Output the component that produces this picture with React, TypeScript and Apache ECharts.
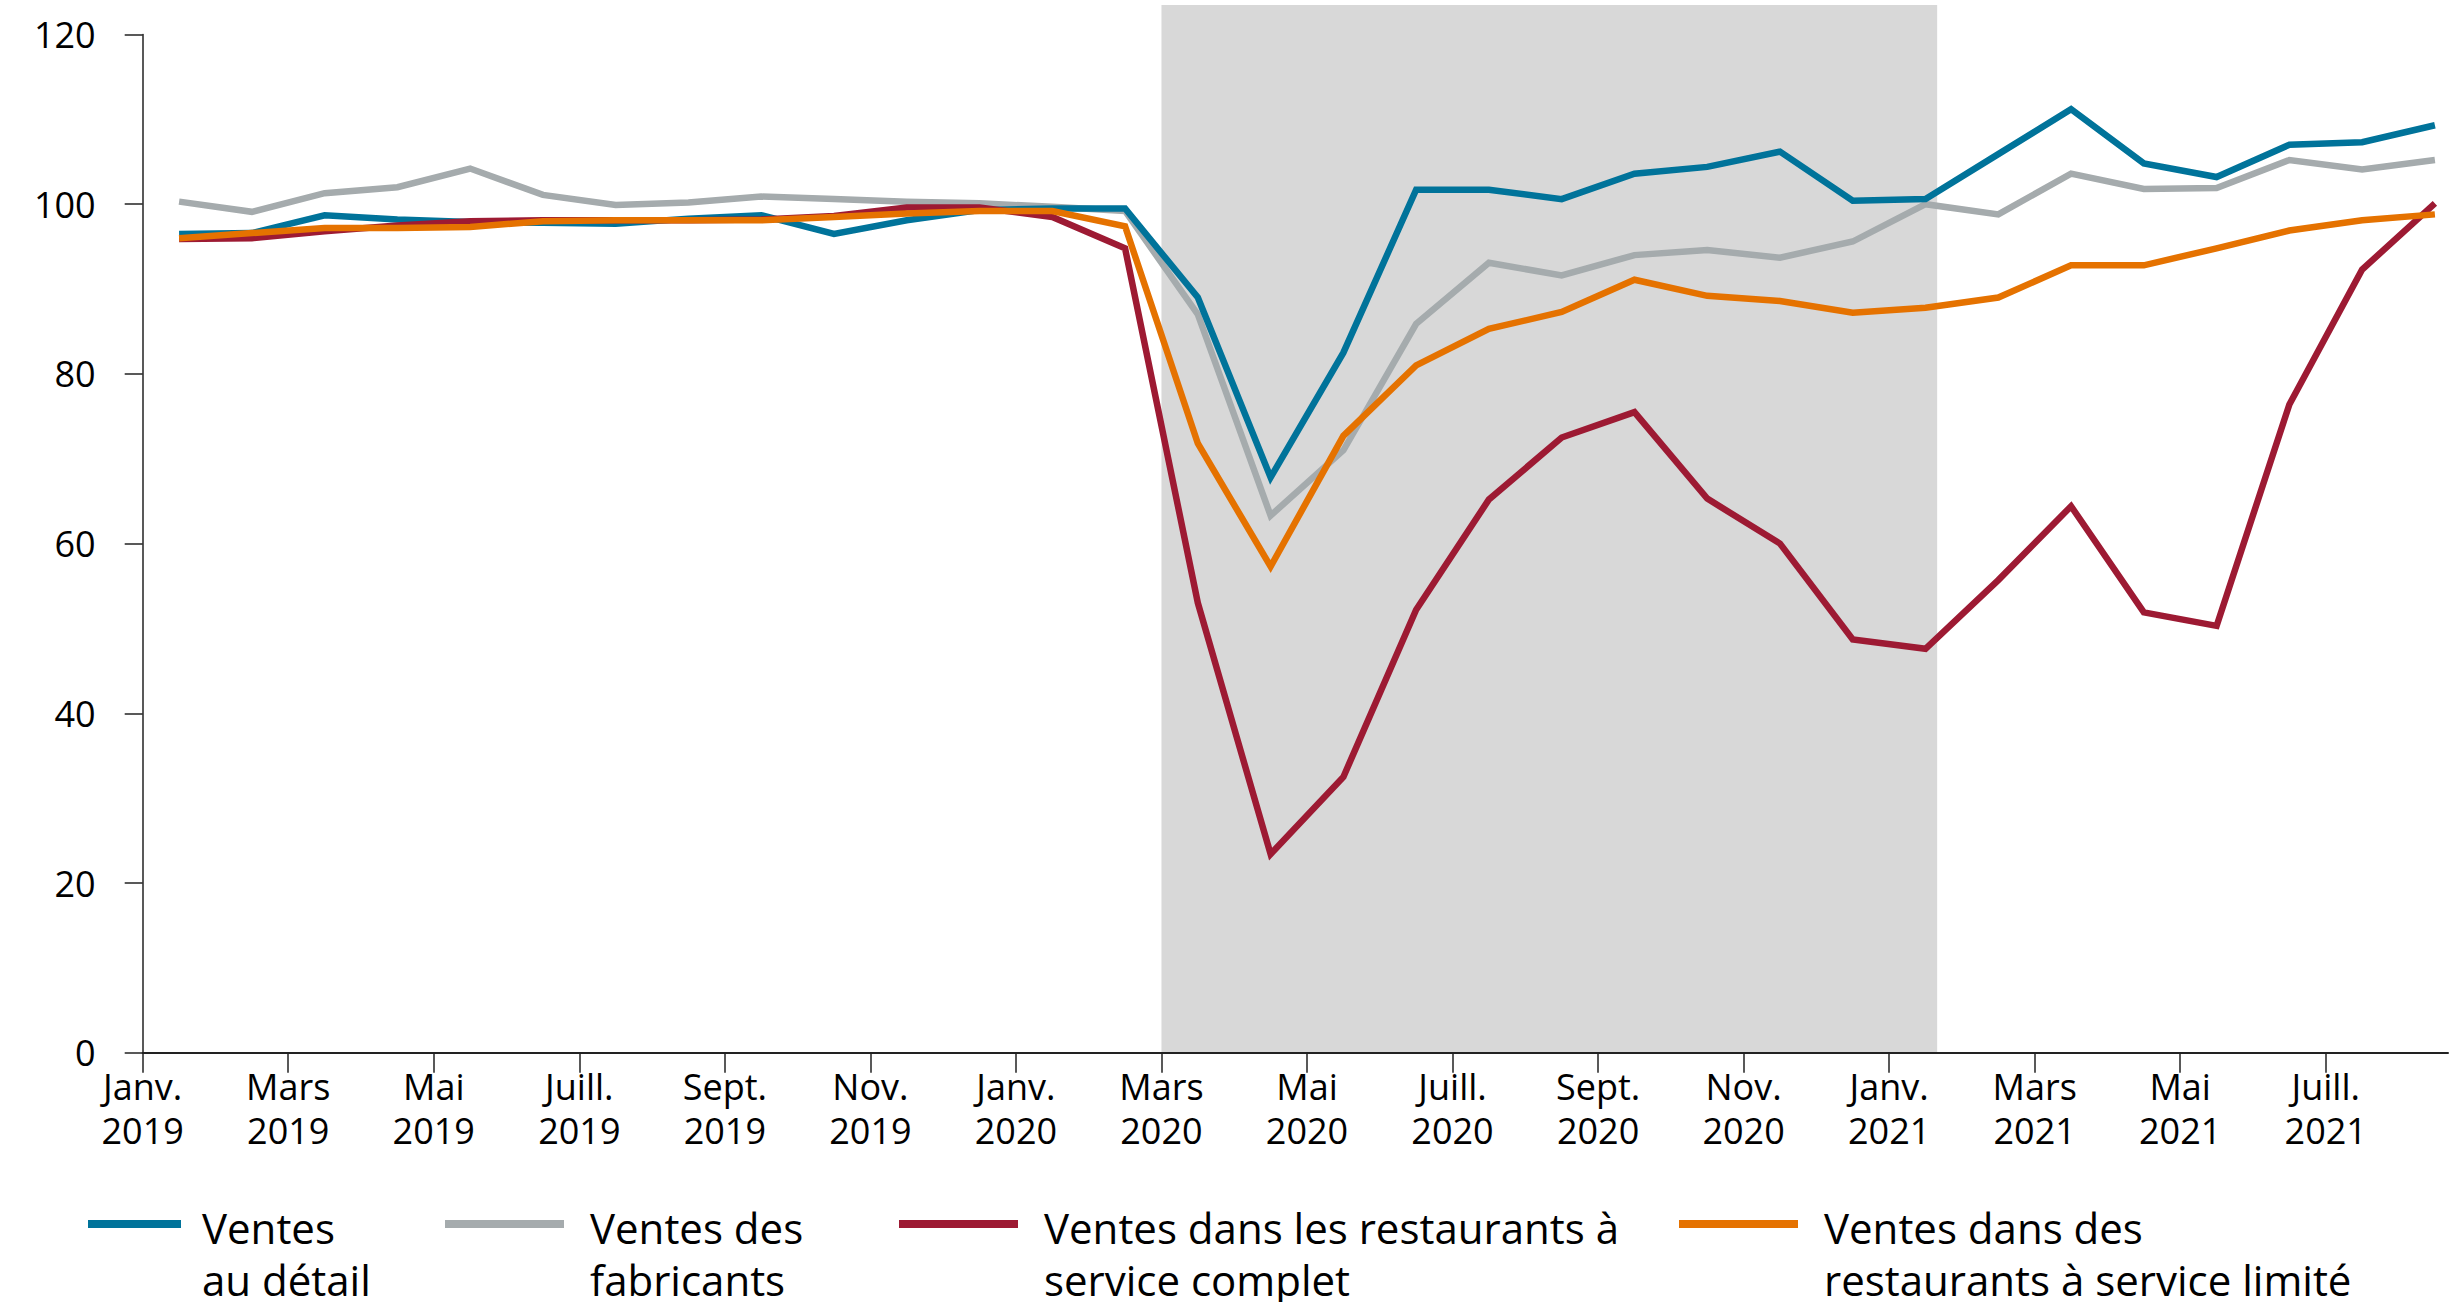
import React, { useEffect, useRef } from "react";
import * as echarts from "echarts";

// Months: Jan 2019 .. Aug 2021 (one value per month, plotted mid-month)
const months = [
  "2019-01", "2019-02", "2019-03", "2019-04", "2019-05", "2019-06", "2019-07", "2019-08", "2019-09", "2019-10", "2019-11", "2019-12",
  "2020-01", "2020-02", "2020-03", "2020-04", "2020-05", "2020-06", "2020-07", "2020-08", "2020-09", "2020-10", "2020-11", "2020-12",
  "2021-01", "2021-02", "2021-03", "2021-04", "2021-05", "2021-06", "2021-07", "2021-08",
];

const tickLabels = [
  "Janv.\n2019", "Mars\n2019", "Mai\n2019", "Juill.\n2019", "Sept.\n2019", "Nov.\n2019",
  "Janv.\n2020", "Mars\n2020", "Mai\n2020", "Juill.\n2020", "Sept.\n2020", "Nov.\n2020",
  "Janv.\n2021", "Mars\n2021", "Mai\n2021", "Juill.\n2021",
];

const retail = [
  96.5, 96.6, 98.7, 98.2, 97.9, 97.8, 97.7, 98.3, 98.7, 96.5, 98.1, 99.3,
  99.5, 99.5, 89.0, 67.8, 82.5, 101.7, 101.7, 100.6, 103.6, 104.4, 106.2, 100.4,
  100.6, 105.9, 111.2, 104.8, 103.2, 107.0, 107.3, 109.3,
];

const manufacturers = [
  100.3, 99.1, 101.3, 102.0, 104.2, 101.1, 99.9, 100.2, 100.9, 100.6, 100.3, 100.1,
  99.7, 99.2, 87.0, 63.3, 71.0, 85.9, 93.1, 91.6, 94.0, 94.6, 93.7, 95.6,
  100.0, 98.8, 103.6, 101.8, 101.9, 105.2, 104.1, 105.2,
];

const fullService = [
  95.9, 96.0, 96.8, 97.5, 98.0, 98.1, 98.1, 98.1, 98.2, 98.6, 99.6, 99.6,
  98.5, 94.8, 53.0, 23.4, 32.5, 52.2, 65.2, 72.5, 75.5, 65.3, 60.0, 48.7,
  47.6, 55.7, 64.4, 51.9, 50.3, 76.4, 92.3, 100.1,
];

const limitedService = [
  96.0, 96.6, 97.2, 97.2, 97.3, 98.0, 98.1, 98.1, 98.1, 98.5, 98.9, 99.2,
  99.2, 97.4, 71.8, 57.3, 72.7, 81.0, 85.3, 87.3, 91.1, 89.2, 88.6, 87.2,
  87.8, 89.0, 92.8, 92.8, 94.8, 96.9, 98.1, 98.8,
];

const seriesNames = [
  "Ventes au détail",
  "Ventes des fabricants",
  "Ventes dans les restaurants à service complet",
  "Ventes dans des restaurants à service limité",
];
const legendLines = [
  ["Ventes", "au détail"],
  ["Ventes des", "fabricants"],
  ["Ventes dans les restaurants à", "service complet"],
  ["Ventes dans des", "restaurants à service limité"],
];
const colors = ["#00739a", "#a5abad", "#9d1a33", "#e57200"];

// Shaded period (in months since Jan 2019): March 2020 to late January 2021
const shadeStart = 14;
const shadeEnd = 24.66;

const FONT = "'Open Sans', 'Noto Sans', sans-serif";

export default function App() {
  const ref = useRef<HTMLDivElement>(null);

  useEffect(() => {
    if (!ref.current) return;
    const chart = echarts.init(ref.current, undefined, { renderer: "svg" });

    const toPoints = (vals: number[]) => vals.map((v, i) => [i + 0.5, v]);
    const tickValues = tickLabels.map((_, i) => i * 2);
    const xMax = 31.68;

    const lineSeries = (idx: number, vals: number[]) => ({
      type: "line",
      name: seriesNames[idx],
      data: toPoints(vals),
      xAxisIndex: 0,
      yAxisIndex: 0,
      symbol: "none",
      showSymbol: false,
      silent: true,
      z: 4,
      lineStyle: { width: 6.5, color: colors[idx], join: "miter", cap: "butt" },
      itemStyle: { color: colors[idx] },
      emphasis: { disabled: true },
    });

    const legendLeft = [88, 445, 899, 1679];
    const legendIconW = [93, 119, 119, 119];
    const legendTextPad = [16, 21, 21, 21];

    const option: any = {
      animation: false,
      grid: [
        { left: 142.7, right: 5, top: 34.5, bottom: 249.3 },
        { left: 142.7, right: 5, top: 5, bottom: 249.3 },
      ],
      xAxis: [
        {
          type: "value",
          gridIndex: 0,
          min: 0,
          max: xMax,
          interval: 2,
          z: 6,
          axisLine: { show: true, onZero: false, lineStyle: { color: "#222", width: 2 } },
          axisTick: {
            show: true,
            length: 20,
            customValues: tickValues,
            lineStyle: { color: "#222", width: 1.5 },
          },
          axisLabel: {
            customValues: tickValues,
            formatter: (v: number) => tickLabels[Math.round(v / 2)] ?? "",
            fontSize: 36,
            lineHeight: 44,
            color: "#000",
            fontFamily: FONT,
            margin: 12,
          },
          splitLine: { show: false },
        },
        { type: "value", gridIndex: 1, min: 0, max: xMax, show: false },
      ],
      yAxis: [
        {
          type: "value",
          gridIndex: 0,
          min: 0,
          max: 120,
          interval: 20,
          z: 6,
          axisLine: { show: true, lineStyle: { color: "#222", width: 1.5 } },
          axisTick: { show: true, length: 18, lineStyle: { color: "#222", width: 1.5 } },
          axisLabel: { fontSize: 36, color: "#000", fontFamily: FONT, margin: 47 },
          splitLine: { show: false },
        },
        { type: "value", gridIndex: 1, min: 0, max: 1, show: false },
      ],
      legend: seriesNames.map((name, i) => ({
        data: [name],
        left: legendLeft[i],
        top: 1167,
        padding: 0,
        itemWidth: legendIconW[i],
        itemHeight: 8,
        icon: "rect",
        selectedMode: false,
        formatter: () => "{s| }\n{t|" + legendLines[i][0] + "}\n{t|" + legendLines[i][1] + "}",
        textStyle: {
          color: "#000",
          fontFamily: FONT,
          fontSize: 42,
          padding: [0, 0, 0, legendTextPad[i]],
          rich: {
            s: { fontSize: 10, lineHeight: 58, fontFamily: FONT },
            t: { fontSize: 42, lineHeight: 52, color: "#000", fontFamily: FONT },
          },
        },
      })),
      series: [
        {
          type: "line",
          name: "shade",
          xAxisIndex: 1,
          yAxisIndex: 1,
          data: [[shadeStart, 0]],
          symbol: "none",
          silent: true,
          lineStyle: { opacity: 0 },
          z: 1,
          markArea: {
            silent: true,
            itemStyle: { color: "#d8d8d8" },
            data: [[{ coord: [shadeStart, 0] }, { coord: [shadeEnd, 1] }]],
          },
        },
        lineSeries(1, manufacturers),
        lineSeries(0, retail),
        lineSeries(2, fullService),
        lineSeries(3, limitedService),
      ],
    };

    chart.setOption(option);
    return () => chart.dispose();
  }, []);

  return (
    <div
      ref={ref}
      style={{ position: "fixed", left: 0, top: 0, width: 2453, height: 1302, background: "#fff" }}
    />
  );
}
